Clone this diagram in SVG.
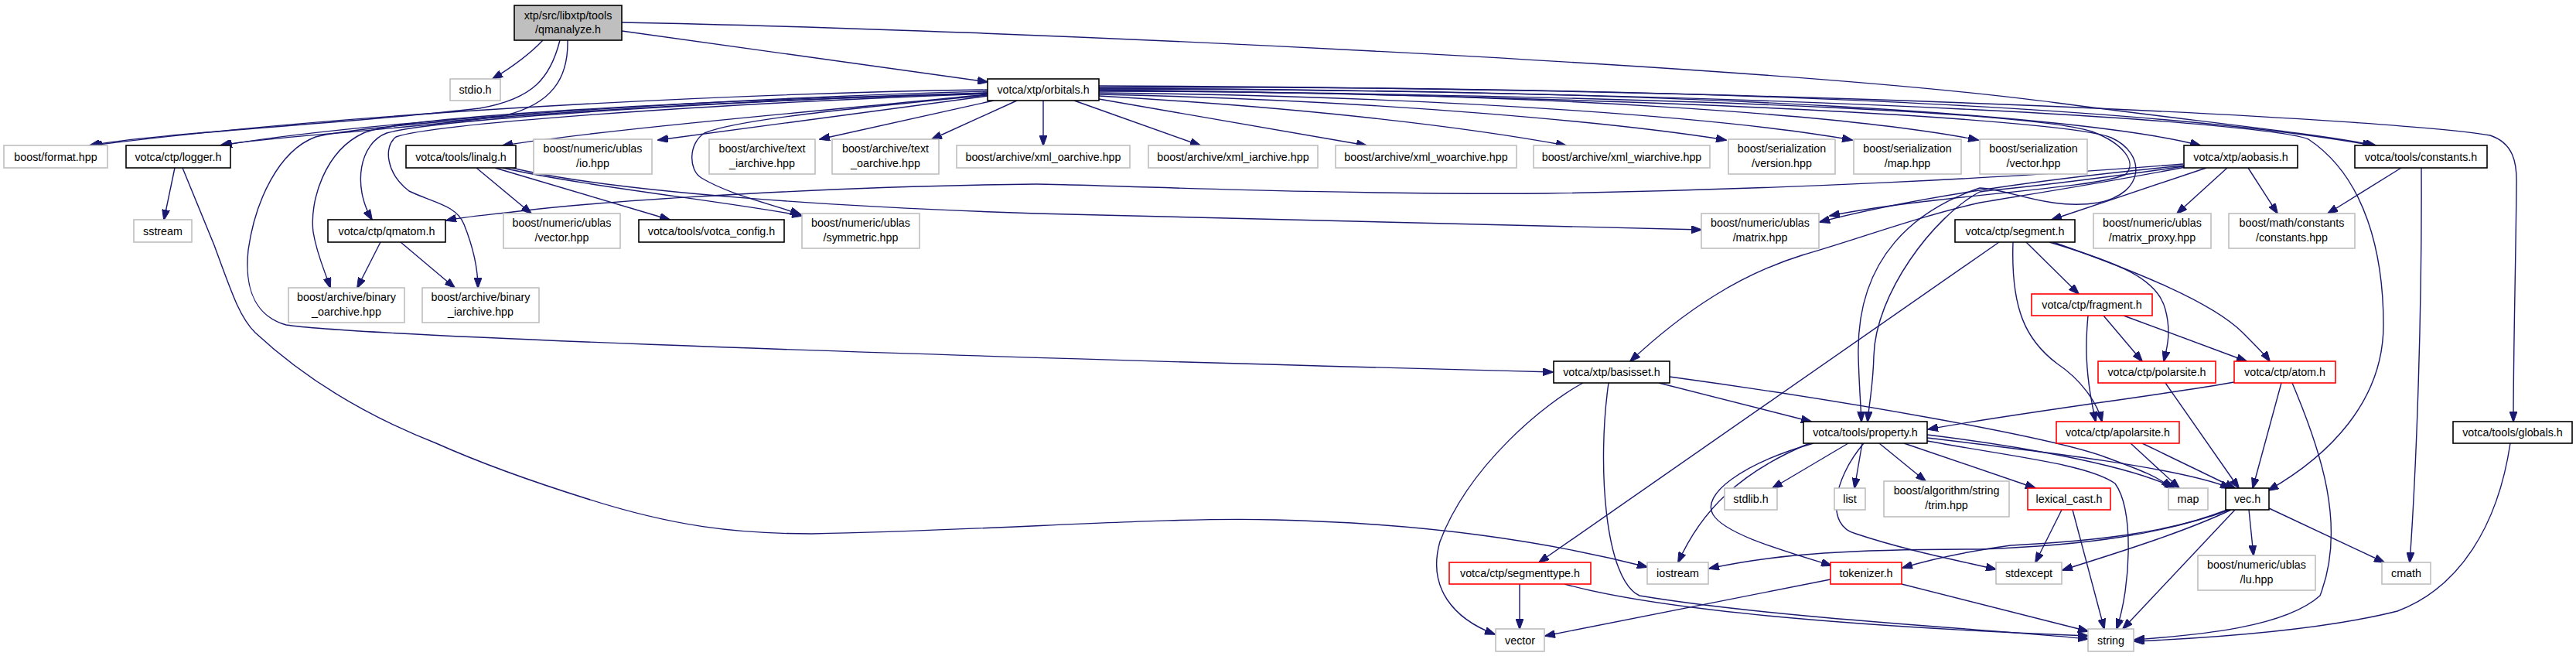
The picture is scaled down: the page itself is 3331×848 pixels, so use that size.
<svg xmlns="http://www.w3.org/2000/svg" width="3331" height="848" viewBox="0 0 3331 848">
<style>
.e{fill:none;stroke:#191970;stroke-width:1.4;marker-end:url(#a)}
.n rect{fill:#fff;stroke:#bfbfbf;stroke-width:1.6}
.d rect{stroke:#000}
.r rect{stroke:#ff0000}
.g rect{fill:#bfbfbf;stroke:#000}
text{font-family:"Liberation Sans",Arial,sans-serif;font-size:14.3px;fill:#000;text-anchor:middle}
</style>
<defs>
<marker id="a" viewBox="0 0 14 10" refX="13" refY="5" markerWidth="14" markerHeight="10" markerUnits="userSpaceOnUse" orient="auto"><path d="M0,0 L14,5 L0,10 z" fill="#191970" stroke="#191970"/></marker>
</defs>
<rect width="3331" height="848" fill="#fff"/>
<g id="edges">
<!-- root -->
<path class="e" d="M702,52 C685,70 660,88 637,102"/>
<path class="e" d="M724,52 C712,100 690,128 620,140 C450,160 200,172 116,188"/>
<path class="e" d="M734,52 C735,100 715,135 650,150 C500,170 340,177 285,188"/>
<path class="e" d="M804,40 L1277,106"/>
<path class="e" d="M804,29 C1300,38 2300,85 2660,133 C2850,158 2990,172 3072,188"/>
<!-- orbitals -->
<path class="e" d="M1277,116 C1000,120 500,140 119,188"/>
<path class="e" d="M1277,118 C1000,125 500,152 287,188"/>
<path class="e" d="M1277,122 C1100,140 800,165 650,188"/>
<path class="e" d="M1277,124 L851,181"/>
<path class="e" d="M1285,130 L1060,180"/>
<path class="e" d="M1315,130 L1205,180"/>
<path class="e" d="M1349,130 L1349,188"/>
<path class="e" d="M1389,130 L1552,188"/>
<path class="e" d="M1421,128 L1767,188"/>
<path class="e" d="M1421,124 C1700,140 1900,165 2025,188"/>
<path class="e" d="M1421,122 C1800,130 2100,160 2232,181"/>
<path class="e" d="M1421,120 C1900,125 2250,155 2395,181"/>
<path class="e" d="M1421,118 C2000,118 2400,150 2558,181"/>
<path class="e" d="M1421,115 C2200,115 2700,150 2845,188"/>
<path class="e" d="M1421,113 C2200,110 2800,140 3068,188"/>
<path class="e" d="M1421,111 C2400,115 3100,155 3220,175 C3250,185 3255,210 3254,240 C3253,350 3250,450 3250,545"/>
<path class="e" d="M1421,114 C2400,120 2940,160 2985,180 C3060,230 3082,330 3082,420 C3082,520 3010,590 2933,634"/>
<path class="e" d="M1421,117 C2300,125 2640,150 2705,170 C2745,185 2765,210 2748,226 C2700,245 2500,252 2366,279"/>
<path class="e" d="M1421,116 C2300,128 2690,160 2730,178 C2775,198 2775,250 2713,262 C2650,272 2600,245 2560,243 C2480,270 2400,330 2403,460 C2404,500 2406,520 2407,545"/>
<path class="e" d="M1277,121 C900,130 470,160 408,177 C360,195 330,260 321,323 C315,380 335,410 370,420 C450,432 1000,455 2008,481"/>
<path class="e" d="M1277,120 C900,132 560,155 500,172 C465,185 455,240 481,284"/>
<path class="e" d="M1277,120 C900,130 520,150 470,172 C420,195 400,260 405,300 C410,330 420,350 427,372"/>
<path class="e" d="M1277,121 C900,135 560,160 512,177 C495,190 500,225 529,247 C560,262 590,265 600,290 C612,320 618,345 618,372"/>
<path class="e" d="M1277,123 C1100,140 950,155 911,172 C890,185 890,220 907,230 C940,250 990,262 1035,277"/>
<!-- linalg -->
<path class="e" d="M616,217 L687,276"/>
<path class="e" d="M640,217 L866,284"/>
<path class="e" d="M650,217 C750,240 950,262 1037,279"/>
<path class="e" d="M662,217 C800,250 1100,268 1340,276 C1700,287 2000,293 2200,297"/>
<!-- logger -->
<path class="e" d="M226,217 L212,284"/>
<path class="e" d="M236,217 L277,317 C300,380 310,410 330,430 C400,495 480,540 564,573 C620,598 680,620 760,645 C870,680 950,690 1050,690 C1300,685 1500,668 1650,672 C1850,677 2000,700 2130,733"/>
<!-- qmatom -->
<path class="e" d="M492,313 L462,372"/>
<path class="e" d="M518,313 L588,372"/>
<!-- aobasis -->
<path class="e" d="M2823,212 C2600,230 2300,245 2000,250 C1700,252 1400,238 1340,238 C1100,240 800,258 680,272 C630,278 600,280 577,285"/>
<path class="e" d="M2824,214 C2600,235 2450,262 2353,287"/>
<path class="e" d="M2824,215 C2650,240 2580,245 2560,248 C2500,280 2425,380 2423,460 C2422,500 2417,520 2415,545"/>
<path class="e" d="M2826,216 C2700,240 2600,255 2560,262 C2480,280 2400,310 2330,330 C2250,355 2180,400 2108,467"/>
<path class="e" d="M2853,217 L2653,284"/>
<path class="e" d="M2880,217 L2815,276"/>
<path class="e" d="M2907,217 L2945,276"/>
<!-- constants.h -->
<path class="e" d="M3105,217 L3010,276"/>
<path class="e" d="M3131,217 C3132,400 3125,600 3116,727"/>
<!-- segment -->
<path class="e" d="M2585,313 L1990,727"/>
<path class="e" d="M2620,313 L2688,380"/>
<path class="e" d="M2603,313 C2600,400 2620,440 2660,470 C2690,490 2712,520 2718,545"/>
<path class="e" d="M2650,313 C2740,340 2790,360 2800,400 C2808,430 2802,450 2798,467"/>
<path class="e" d="M2655,313 C2760,350 2860,390 2900,430 C2920,450 2930,460 2935,467"/>
<!-- fragment -->
<path class="e" d="M2720,408 L2770,467"/>
<path class="e" d="M2746,408 L2905,467"/>
<path class="e" d="M2700,408 C2697,440 2695,480 2710,545"/>
<!-- basisset -->
<path class="e" d="M2145,495 L2342,545"/>
<path class="e" d="M2047,495 C2000,520 1900,600 1862,700 C1845,760 1880,800 1933,820"/>
<path class="e" d="M2080,495 C2065,600 2075,750 2120,770 C2300,800 2600,815 2700,826"/>
<path class="e" d="M2159,487 C2400,520 2650,565 2720,590 C2760,605 2790,615 2808,631"/>
<!-- property -->
<path class="e" d="M2390,573 L2292,631"/>
<path class="e" d="M2408,573 L2398,631"/>
<path class="e" d="M2430,573 L2490,622"/>
<path class="e" d="M2462,573 L2632,631"/>
<path class="e" d="M2340,573 C2250,610 2200,660 2170,727"/>
<path class="e" d="M2345,573 C2250,600 2200,640 2215,665 C2230,690 2300,710 2368,731"/>
<path class="e" d="M2410,573 C2370,620 2360,680 2400,690 C2460,710 2520,722 2581,736"/>
<path class="e" d="M2492,562 C2600,575 2750,600 2812,631"/>
<path class="e" d="M2492,566 C2650,585 2820,605 2884,631"/>
<path class="e" d="M2492,570 C2600,590 2700,600 2735,625 C2760,660 2755,760 2737,813"/>
<!-- polarsite / atom / apolarsite -->
<path class="e" d="M2800,495 L2895,631"/>
<path class="e" d="M2950,495 L2913,631"/>
<path class="e" d="M2889,494 C2800,510 2600,535 2493,555"/>
<path class="e" d="M2964,495 C3000,580 3035,680 3000,770 C2950,815 2820,822 2760,827"/>
<path class="e" d="M2755,573 L2818,631"/>
<path class="e" d="M2770,573 L2890,631"/>
<!-- lexical_cast -->
<path class="e" d="M2666,659 L2632,727"/>
<path class="e" d="M2680,659 L2721,813"/>
<!-- vec -->
<path class="e" d="M2890,659 L2745,813"/>
<path class="e" d="M2908,659 L2914,718"/>
<path class="e" d="M2934,657 L3083,727"/>
<path class="e" d="M2885,659 C2820,690 2720,720 2667,737"/>
<path class="e" d="M2883,659 C2800,690 2700,700 2600,705 C2550,712 2500,722 2460,734"/>
<path class="e" d="M2880,659 C2800,690 2700,705 2560,710 C2400,710 2300,715 2210,735"/>
<!-- globals -->
<path class="e" d="M3246,573 C3230,680 3180,760 3100,790 C3000,815 2850,825 2760,829"/>
<!-- segmenttype / tokenizer -->
<path class="e" d="M1965,755 L1965,813"/>
<path class="e" d="M2023,755 C2150,790 2400,810 2700,822"/>
<path class="e" d="M2367,749 L1998,822"/>
<path class="e" d="M2459,755 L2700,816"/>
</g>
<g id="root" class="n g"><rect x="665" y="7" width="139" height="45"/><text x="734.5" y="25">xtp/src/libxtp/tools</text><text x="734.5" y="43">/qmanalyze.h</text></g>
<g id="stdio" class="n"><rect x="582" y="102" width="65" height="28"/><text x="614.5" y="121">stdio.h</text></g>
<g id="orbitals" class="n d"><rect x="1277" y="102" width="144" height="28"/><text x="1349" y="121">votca/xtp/orbitals.h</text></g>
<g id="format" class="n"><rect x="5" y="188" width="134" height="29"/><text x="72" y="207.5">boost/format.hpp</text></g>
<g id="logger" class="n d"><rect x="163" y="188" width="135" height="29"/><text x="230.5" y="207.5">votca/ctp/logger.h</text></g>
<g id="linalg" class="n d"><rect x="525" y="188" width="142" height="29"/><text x="596" y="207.5">votca/tools/linalg.h</text></g>
<g id="io" class="n"><rect x="690" y="180" width="153" height="45"/><text x="766.5" y="197">boost/numeric/ublas</text><text x="766.5" y="216">/io.hpp</text></g>
<g id="text_iarchive" class="n"><rect x="917" y="180" width="137" height="45"/><text x="985.5" y="197">boost/archive/text</text><text x="985.5" y="216">_iarchive.hpp</text></g>
<g id="text_oarchive" class="n"><rect x="1076" y="180" width="138" height="45"/><text x="1145" y="197">boost/archive/text</text><text x="1145" y="216">_oarchive.hpp</text></g>
<g id="xml_oarchive" class="n"><rect x="1237" y="188" width="224" height="29"/><text x="1349" y="207.5">boost/archive/xml_oarchive.hpp</text></g>
<g id="xml_iarchive" class="n"><rect x="1485" y="188" width="219" height="29"/><text x="1594.5" y="207.5">boost/archive/xml_iarchive.hpp</text></g>
<g id="xml_woarchive" class="n"><rect x="1727" y="188" width="234" height="29"/><text x="1844" y="207.5">boost/archive/xml_woarchive.hpp</text></g>
<g id="xml_wiarchive" class="n"><rect x="1983" y="188" width="228" height="29"/><text x="2097" y="207.5">boost/archive/xml_wiarchive.hpp</text></g>
<g id="ser_version" class="n"><rect x="2235" y="180" width="138" height="45"/><text x="2304" y="197">boost/serialization</text><text x="2304" y="216">/version.hpp</text></g>
<g id="ser_map" class="n"><rect x="2397" y="180" width="139" height="45"/><text x="2466.5" y="197">boost/serialization</text><text x="2466.5" y="216">/map.hpp</text></g>
<g id="ser_vector" class="n"><rect x="2560" y="180" width="139" height="45"/><text x="2629.5" y="197">boost/serialization</text><text x="2629.5" y="216">/vector.hpp</text></g>
<g id="aobasis" class="n d"><rect x="2824" y="188" width="147" height="29"/><text x="2897.5" y="207.5">votca/xtp/aobasis.h</text></g>
<g id="constants_h" class="n d"><rect x="3045" y="188" width="171" height="29"/><text x="3130.5" y="207.5">votca/tools/constants.h</text></g>
<g id="sstream" class="n"><rect x="173" y="284" width="75" height="29"/><text x="210.5" y="303.5">sstream</text></g>
<g id="qmatom" class="n d"><rect x="424" y="284" width="152" height="29"/><text x="500" y="303.5">votca/ctp/qmatom.h</text></g>
<g id="ublas_vector" class="n"><rect x="651" y="276" width="151" height="45"/><text x="726.5" y="293">boost/numeric/ublas</text><text x="726.5" y="312">/vector.hpp</text></g>
<g id="votca_config" class="n d"><rect x="826" y="284" width="188" height="29"/><text x="920" y="303.5">votca/tools/votca_config.h</text></g>
<g id="symmetric" class="n"><rect x="1037" y="276" width="152" height="45"/><text x="1113" y="293">boost/numeric/ublas</text><text x="1113" y="312">/symmetric.hpp</text></g>
<g id="matrix" class="n"><rect x="2200" y="276" width="152" height="45"/><text x="2276" y="293">boost/numeric/ublas</text><text x="2276" y="312">/matrix.hpp</text></g>
<g id="segment" class="n d"><rect x="2528" y="284" width="155" height="29"/><text x="2605.5" y="303.5">votca/ctp/segment.h</text></g>
<g id="matrix_proxy" class="n"><rect x="2707" y="276" width="152" height="45"/><text x="2783" y="293">boost/numeric/ublas</text><text x="2783" y="312">/matrix_proxy.hpp</text></g>
<g id="math_constants" class="n"><rect x="2882" y="276" width="163" height="45"/><text x="2963.5" y="293">boost/math/constants</text><text x="2963.5" y="312">/constants.hpp</text></g>
<g id="binary_oarchive" class="n"><rect x="373" y="372" width="150" height="45"/><text x="448" y="389">boost/archive/binary</text><text x="448" y="408">_oarchive.hpp</text></g>
<g id="binary_iarchive" class="n"><rect x="546" y="372" width="151" height="45"/><text x="621.5" y="389">boost/archive/binary</text><text x="621.5" y="408">_iarchive.hpp</text></g>
<g id="fragment" class="n r"><rect x="2627" y="380" width="156" height="28"/><text x="2705" y="399">votca/ctp/fragment.h</text></g>
<g id="basisset" class="n d"><rect x="2009" y="467" width="150" height="28"/><text x="2084" y="486">votca/xtp/basisset.h</text></g>
<g id="polarsite" class="n r"><rect x="2713" y="467" width="152" height="28"/><text x="2789" y="486">votca/ctp/polarsite.h</text></g>
<g id="atom" class="n r"><rect x="2889" y="467" width="131" height="28"/><text x="2954.5" y="486">votca/ctp/atom.h</text></g>
<g id="property" class="n d"><rect x="2332" y="545" width="160" height="28"/><text x="2412" y="564">votca/tools/property.h</text></g>
<g id="apolarsite" class="n r"><rect x="2659" y="545" width="159" height="28"/><text x="2738.5" y="564">votca/ctp/apolarsite.h</text></g>
<g id="globals" class="n d"><rect x="3172" y="545" width="154" height="28"/><text x="3249" y="564">votca/tools/globals.h</text></g>
<g id="stdlib" class="n"><rect x="2230" y="631" width="68" height="28"/><text x="2264" y="650">stdlib.h</text></g>
<g id="list" class="n"><rect x="2372" y="631" width="40" height="28"/><text x="2392" y="650">list</text></g>
<g id="trim" class="n"><rect x="2436" y="622" width="162" height="46"/><text x="2517" y="639">boost/algorithm/string</text><text x="2517" y="658">/trim.hpp</text></g>
<g id="lexical_cast" class="n r"><rect x="2622" y="631" width="107" height="28"/><text x="2675.5" y="650">lexical_cast.h</text></g>
<g id="map" class="n"><rect x="2804" y="631" width="51" height="28"/><text x="2829.5" y="650">map</text></g>
<g id="vec" class="n d"><rect x="2878" y="631" width="56" height="28"/><text x="2906" y="650">vec.h</text></g>
<g id="segmenttype" class="n r"><rect x="1874" y="727" width="183" height="28"/><text x="1965.5" y="746">votca/ctp/segmenttype.h</text></g>
<g id="iostream" class="n"><rect x="2130" y="727" width="79" height="28"/><text x="2169.5" y="746">iostream</text></g>
<g id="tokenizer" class="n r"><rect x="2367" y="727" width="92" height="28"/><text x="2413" y="746">tokenizer.h</text></g>
<g id="stdexcept" class="n"><rect x="2581" y="727" width="85" height="28"/><text x="2623.5" y="746">stdexcept</text></g>
<g id="lu" class="n"><rect x="2842" y="718" width="152" height="45"/><text x="2918" y="735">boost/numeric/ublas</text><text x="2918" y="754">/lu.hpp</text></g>
<g id="cmath" class="n"><rect x="3080" y="727" width="63" height="28"/><text x="3111.5" y="746">cmath</text></g>
<g id="vector" class="n"><rect x="1934" y="813" width="63" height="29"/><text x="1965.5" y="832.5">vector</text></g>
<g id="string" class="n"><rect x="2700" y="813" width="59" height="29"/><text x="2729.5" y="832.5">string</text></g>
</svg>
